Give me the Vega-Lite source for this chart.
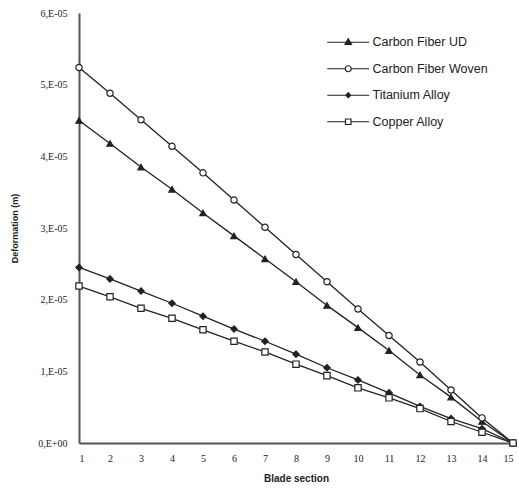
{
  "$schema": "https://vega.github.io/schema/vega-lite/v6.json",
  "width": 434,
  "height": 430,
  "autosize": {"type": "none"},
  "padding": {"left": 79, "top": 13, "right": 6, "bottom": 45},
  "background": "white",
  "config": {"view": {"stroke": null}},
  "data": {"values": [
    {"s": 1, "m": "Carbon Fiber UD", "d": 4.50e-5},
    {"s": 2, "m": "Carbon Fiber UD", "d": 4.18e-5},
    {"s": 3, "m": "Carbon Fiber UD", "d": 3.85e-5},
    {"s": 4, "m": "Carbon Fiber UD", "d": 3.54e-5},
    {"s": 5, "m": "Carbon Fiber UD", "d": 3.21e-5},
    {"s": 6, "m": "Carbon Fiber UD", "d": 2.89e-5},
    {"s": 7, "m": "Carbon Fiber UD", "d": 2.57e-5},
    {"s": 8, "m": "Carbon Fiber UD", "d": 2.25e-5},
    {"s": 9, "m": "Carbon Fiber UD", "d": 1.92e-5},
    {"s": 10, "m": "Carbon Fiber UD", "d": 1.61e-5},
    {"s": 11, "m": "Carbon Fiber UD", "d": 1.29e-5},
    {"s": 12, "m": "Carbon Fiber UD", "d": 0.95e-5},
    {"s": 13, "m": "Carbon Fiber UD", "d": 0.64e-5},
    {"s": 14, "m": "Carbon Fiber UD", "d": 0.30e-5},
    {"s": 15, "m": "Carbon Fiber UD", "d": 0},
    {"s": 1, "m": "Carbon Fiber Woven", "d": 5.24e-5},
    {"s": 2, "m": "Carbon Fiber Woven", "d": 4.88e-5},
    {"s": 3, "m": "Carbon Fiber Woven", "d": 4.51e-5},
    {"s": 4, "m": "Carbon Fiber Woven", "d": 4.14e-5},
    {"s": 5, "m": "Carbon Fiber Woven", "d": 3.77e-5},
    {"s": 6, "m": "Carbon Fiber Woven", "d": 3.39e-5},
    {"s": 7, "m": "Carbon Fiber Woven", "d": 3.01e-5},
    {"s": 8, "m": "Carbon Fiber Woven", "d": 2.63e-5},
    {"s": 9, "m": "Carbon Fiber Woven", "d": 2.25e-5},
    {"s": 10, "m": "Carbon Fiber Woven", "d": 1.87e-5},
    {"s": 11, "m": "Carbon Fiber Woven", "d": 1.50e-5},
    {"s": 12, "m": "Carbon Fiber Woven", "d": 1.13e-5},
    {"s": 13, "m": "Carbon Fiber Woven", "d": 0.74e-5},
    {"s": 14, "m": "Carbon Fiber Woven", "d": 0.35e-5},
    {"s": 15, "m": "Carbon Fiber Woven", "d": 0},
    {"s": 1, "m": "Titanium Alloy", "d": 2.45e-5},
    {"s": 2, "m": "Titanium Alloy", "d": 2.29e-5},
    {"s": 3, "m": "Titanium Alloy", "d": 2.12e-5},
    {"s": 4, "m": "Titanium Alloy", "d": 1.95e-5},
    {"s": 5, "m": "Titanium Alloy", "d": 1.77e-5},
    {"s": 6, "m": "Titanium Alloy", "d": 1.59e-5},
    {"s": 7, "m": "Titanium Alloy", "d": 1.42e-5},
    {"s": 8, "m": "Titanium Alloy", "d": 1.24e-5},
    {"s": 9, "m": "Titanium Alloy", "d": 1.05e-5},
    {"s": 10, "m": "Titanium Alloy", "d": 0.88e-5},
    {"s": 11, "m": "Titanium Alloy", "d": 0.70e-5},
    {"s": 12, "m": "Titanium Alloy", "d": 0.51e-5},
    {"s": 13, "m": "Titanium Alloy", "d": 0.34e-5},
    {"s": 14, "m": "Titanium Alloy", "d": 0.20e-5},
    {"s": 15, "m": "Titanium Alloy", "d": 0},
    {"s": 1, "m": "Copper Alloy", "d": 2.19e-5},
    {"s": 2, "m": "Copper Alloy", "d": 2.04e-5},
    {"s": 3, "m": "Copper Alloy", "d": 1.88e-5},
    {"s": 4, "m": "Copper Alloy", "d": 1.74e-5},
    {"s": 5, "m": "Copper Alloy", "d": 1.58e-5},
    {"s": 6, "m": "Copper Alloy", "d": 1.42e-5},
    {"s": 7, "m": "Copper Alloy", "d": 1.27e-5},
    {"s": 8, "m": "Copper Alloy", "d": 1.10e-5},
    {"s": 9, "m": "Copper Alloy", "d": 0.94e-5},
    {"s": 10, "m": "Copper Alloy", "d": 0.77e-5},
    {"s": 11, "m": "Copper Alloy", "d": 0.63e-5},
    {"s": 12, "m": "Copper Alloy", "d": 0.48e-5},
    {"s": 13, "m": "Copper Alloy", "d": 0.30e-5},
    {"s": 14, "m": "Copper Alloy", "d": 0.15e-5},
    {"s": 15, "m": "Copper Alloy", "d": 0}
  ]},
  "encoding": {
    "x": {"field": "s", "type": "quantitative",
      "scale": {"domain": [1, 15], "nice": false, "zero": false},
      "axis": {"title": "Blade section", "values": [1,2,3,4,5,6,7,8,9,10,11,12,13,14,15],
        "grid": false, "ticks": false, "domainColor": "#555", "domainWidth": 2,
        "labelFont": "Liberation Serif", "labelFontSize": 10, "labelColor": "#222", "labelPadding": 10,
        "titleFont": "Liberation Sans", "titleFontSize": 10, "titleFontWeight": "bold", "titleColor": "#222", "titlePadding": 10}},
    "y": {"field": "d", "type": "quantitative",
      "scale": {"domain": [0, 0.00006], "nice": false},
      "axis": {"title": "Deformation (m)", "values": [0, 0.00001, 0.00002, 0.00003, 0.00004, 0.00005, 0.00006],
        "labelExpr": "datum.value == 0 ? '0,E+00' : round(datum.value * 100000) + ',E-05'",
        "grid": false, "ticks": false, "domainColor": "#555", "domainWidth": 2,
        "labelFont": "Liberation Serif", "labelFontSize": 10, "labelColor": "#222", "labelPadding": 12,
        "titleFont": "Liberation Sans", "titleFontSize": 9, "titleFontWeight": "bold", "titleColor": "#222", "titlePadding": 18}}
  },
  "layer": [
    {"mark": {"type": "line", "color": "#222", "strokeWidth": 1.3},
     "encoding": {"detail": {"field": "m"}}},
    {"mark": {"type": "point", "stroke": "#222", "strokeWidth": 1.2, "opacity": 1, "size": 40},
     "encoding": {
       "shape": {"field": "m", "type": "nominal",
         "scale": {"domain": ["Carbon Fiber UD", "Carbon Fiber Woven", "Titanium Alloy", "Copper Alloy"],
                   "range": ["triangle-up", "circle", "diamond", "square"]},
         "legend": null},
       "fill": {"field": "m", "type": "nominal",
         "scale": {"domain": ["Carbon Fiber UD", "Carbon Fiber Woven", "Titanium Alloy", "Copper Alloy"],
                   "range": ["#222", "white", "#222", "white"]},
         "legend": null}
     }},
    {"transform": [{"filter": "datum.s > 100"}],
     "mark": {"type": "point", "stroke": "#222", "strokeWidth": 1.2, "opacity": 1, "size": 100},
     "encoding": {
       "shape": {"field": "m", "type": "nominal",
         "scale": {"domain": ["Carbon Fiber UD", "Carbon Fiber Woven", "Titanium Alloy", "Copper Alloy"],
                   "range": ["M-4.2,0H4.2M0,-0.7L0.65,0.45L-0.65,0.45Z",
                             "M-4.2,0H-0.6M0.6,0H4.2M0.6,0A0.6,0.6 0 1,1 -0.6,0A0.6,0.6 0 1,1 0.6,0Z",
                             "M-4.2,0H4.2M0,-0.5L0.5,0L0,0.5L-0.5,0Z",
                             "M-4.2,0H-0.55M0.55,0H4.2M-0.55,-0.55H0.55V0.55H-0.55Z"]},
         "legend": {"title": null, "orient": "none", "legendX": 263, "legendY": 23,
           "labelFont": "Liberation Sans", "labelFontSize": 12.5, "labelColor": "#222", "labelOffset": 18,
           "rowPadding": 13.5, "symbolSize": 100, "symbolStrokeWidth": 1.2}},
       "fill": {"field": "m", "type": "nominal",
         "scale": {"domain": ["Carbon Fiber UD", "Carbon Fiber Woven", "Titanium Alloy", "Copper Alloy"],
                   "range": ["#222", "white", "#222", "white"]},
         "legend": {"title": null, "orient": "none", "legendX": 263, "legendY": 23,
           "labelFont": "Liberation Sans", "labelFontSize": 12.5, "labelColor": "#222", "labelOffset": 18,
           "rowPadding": 13.5, "symbolSize": 100, "symbolStrokeWidth": 1.2}}
     }}
  ],
  "resolve": {"scale": {"shape": "independent", "fill": "independent"}}
}
